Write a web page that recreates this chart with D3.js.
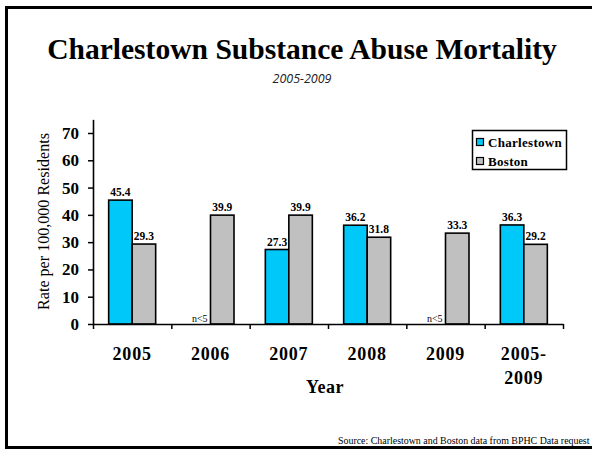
<!DOCTYPE html>
<html>
<head>
<meta charset="utf-8">
<script src="https://cdn.jsdelivr.net/npm/d3@7"></script>
<style>
  html, body { margin: 0; padding: 0; background: #fff; }
  svg { display: block; }
</style>
</head>
<body>
<div id="chart"></div>
<script>
// ---- data ----
const categories = ["2005", "2006", "2007", "2008", "2009", "2005-2009"];
const categoryLines = [["2005"], ["2006"], ["2007"], ["2008"], ["2009"], ["2005-", "2009"]];
const seriesNames = ["Charlestown", "Boston"];
const charlestown = [45.4, null, 27.3, 36.2, null, 36.3];
const boston = [29.3, 39.9, 39.9, 31.8, 33.3, 29.2];
const yTicks = [0, 10, 20, 30, 40, 50, 60, 70];
const suppressedLabel = "n<5";
const titleText = "Charlestown Substance Abuse Mortality";
const subtitleText = "2005-2009";
const yTitle = "Rate per 100,000 Residents";
const xTitle = "Year";
const sourceText = "Source: Charlestown and Boston data from BPHC Data request";

const colors = { Charlestown: "#00C8F8", Boston: "#C0C0C0" };
const serif = "'Liberation Serif', 'Times New Roman', serif";

const W = 592, H = 449;
const svg = d3.select("#chart").append("svg").attr("width", W).attr("height", H);

// frame
svg.append("rect").attr("x", 6.5).attr("y", 7.5).attr("width", 700).attr("height", 440)
  .attr("fill", "none").attr("stroke", "#000").attr("stroke-width", 3);

// title
const title = svg.append("text").attr("x", 302).attr("y", 59).attr("text-anchor", "middle")
  .attr("font-family", serif).attr("font-weight", "bold").attr("font-size", 27)
  .attr("fill", "#000").text(titleText);
const tw = title.node().getComputedTextLength();
title.attr("font-size", 27 * 510 / tw);

svg.append("text").attr("x", 302).attr("y", 83).attr("text-anchor", "middle")
  .attr("font-family", "'Open Sans', 'DejaVu Sans', sans-serif").attr("font-style", "italic")
  .attr("font-size", 12.5).attr("fill", "#222").text(subtitleText);

// scales
const x0 = 93, x1 = 563;
const y = d3.scaleLinear().domain([0, 75]).range([324, 324 - 75 * (191 / 70)]);
const x = d3.scaleBand().domain(categories).range([x0, x1]).padding(0);
const bw = x.bandwidth();
const xs = d3.scaleBand().domain(seriesNames).range([0.2 * bw, 0.8 * bw]).padding(0);
const xIdx = d3.scaleLinear().domain([0, categories.length]).range([x0, x1]);

const g = svg.append("g");

// bars
const rows = categories.map((c, i) => ({ c, i, Charlestown: charlestown[i], Boston: boston[i] }));
seriesNames.forEach(s => {
  const valid = rows.filter(r => r[s] != null);
  g.selectAll(null).data(valid).enter().append("rect")
    .attr("x", r => x(r.c) + xs(s))
    .attr("y", r => y(r[s]))
    .attr("width", xs.bandwidth())
    .attr("height", r => y(0) - y(r[s]))
    .attr("fill", colors[s]).attr("stroke", "#000").attr("stroke-width", 1.6);
  g.selectAll(null).data(valid).enter().append("text")
    .attr("x", r => x(r.c) + xs(s) + xs.bandwidth() / 2)
    .attr("y", r => y(r[s]) - 4)
    .attr("text-anchor", "middle")
    .attr("font-family", serif).attr("font-weight", "bold").attr("font-size", 11.5)
    .attr("fill", "#000").text(r => r[s].toFixed(1));
  const missing = rows.filter(r => r[s] == null);
  g.selectAll(null).data(missing).enter().append("text")
    .attr("x", r => x(r.c) + xs(s) + xs.bandwidth() / 2 + 1)
    .attr("y", y(0) - 2)
    .attr("text-anchor", "middle")
    .attr("font-family", serif).attr("font-size", 10)
    .attr("fill", "#000").text(suppressedLabel);
});

// y axis
const yAxis = svg.append("g").attr("transform", `translate(${x0},0)`)
  .call(d3.axisLeft(y).tickValues(yTicks).tickSize(5).tickSizeOuter(0).tickPadding(9));
yAxis.select(".domain").attr("stroke", "#000").attr("stroke-width", 1.6);
yAxis.selectAll(".tick line").attr("stroke", "#000").attr("stroke-width", 1.5);
yAxis.selectAll(".tick text").attr("font-family", serif).attr("font-weight", "bold")
  .attr("font-size", 17).attr("fill", "#000");

// x axis
const xAxis = svg.append("g").attr("transform", `translate(0,${y(0)})`)
  .call(d3.axisBottom(xIdx).tickValues(d3.range(categories.length + 1)).tickFormat("")
    .tickSize(5).tickSizeOuter(0));
xAxis.select(".domain").attr("stroke", "#000").attr("stroke-width", 1.6);
xAxis.selectAll(".tick line").attr("stroke", "#000").attr("stroke-width", 1.5);

// category labels
categories.forEach((c, i) => {
  const t = svg.append("text").attr("x", x(c) + bw / 2).attr("y", 360)
    .attr("text-anchor", "middle").attr("font-family", serif).attr("font-weight", "bold")
    .attr("font-size", 18).attr("letter-spacing", 0.8).attr("fill", "#000");
  categoryLines[i].forEach((ln, k) => {
    t.append("tspan").attr("x", x(c) + bw / 2).attr("dy", k === 0 ? 0 : 24).text(ln);
  });
});

// axis titles
svg.append("text").attr("x", (x0 + x1) / 2 - 3).attr("y", 393).attr("text-anchor", "middle")
  .attr("font-family", serif).attr("font-weight", "bold").attr("font-size", 18)
  .attr("letter-spacing", 0.5).attr("fill", "#000").text(xTitle);

const yt = svg.append("text").attr("transform", "translate(49,221.5) rotate(-90)")
  .attr("text-anchor", "middle").attr("font-family", serif).attr("font-size", 15)
  .attr("fill", "#000").text(yTitle);
const ytw = yt.node().getComputedTextLength();
yt.attr("font-size", 15 * 177 / ytw);

// legend
const lg = svg.append("g");
lg.append("rect").attr("x", 472.5).attr("y", 130.5).attr("width", 94).attr("height", 39)
  .attr("fill", "#fff").attr("stroke", "#000").attr("stroke-width", 1.5);
seriesNames.forEach((s, i) => {
  lg.append("rect").attr("x", 476.5).attr("y", 138.5 + i * 19).attr("width", 7).attr("height", 7)
    .attr("fill", colors[s]).attr("stroke", "#000").attr("stroke-width", 1.2);
  lg.append("text").attr("x", 488).attr("y", 147 + i * 18.5)
    .attr("font-family", serif).attr("font-weight", "bold").attr("font-size", 13)
    .attr("letter-spacing", 0.3).attr("fill", "#000").text(s);
});

// source
const src = svg.append("text").attr("x", 338).attr("y", 444)
  .attr("font-family", serif).attr("font-size", 10).attr("fill", "#000").text(sourceText);
const sw = src.node().getComputedTextLength();
if (sw > 252) src.attr("font-size", 10 * 252 / sw);
</script>
</body>
</html>
